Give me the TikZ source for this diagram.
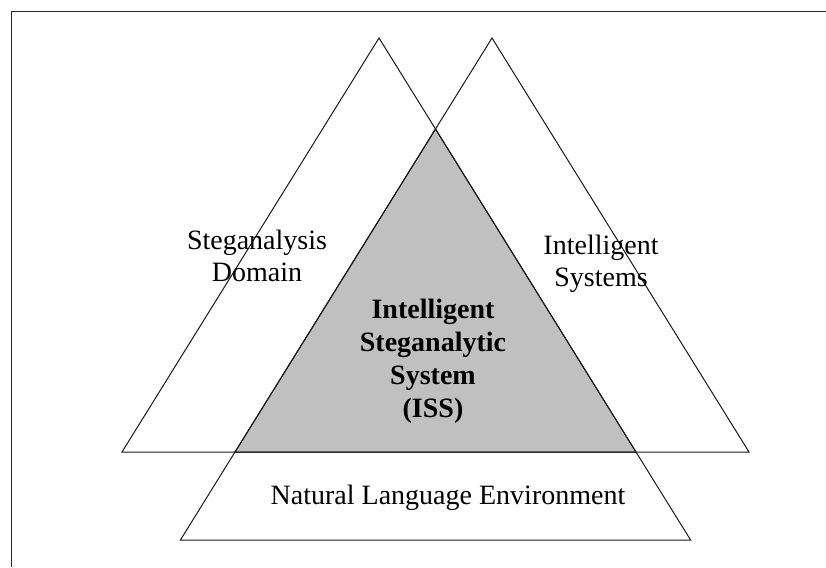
\documentclass[tikz,border=0pt]{standalone}
\usepackage{fontspec}
\setmainfont{Liberation Serif}
\usetikzlibrary{calc}
\begin{document}
\begin{tikzpicture}[x=1pt,y=-1pt,
  tri/.style={draw=black!90, line width=1pt, line join=miter},
  frameline/.style={draw=black!85, line width=1.8pt},
  lbl/.style={font=\fontsize{28}{32}\selectfont, align=center, inner sep=0pt},
  shade/.style={fill=isgray}]
\definecolor{isgray}{HTML}{C0C0C0}
\useasboundingbox (0,0) rectangle (826,567);
% frame
\coordinate (F1) at (11.5,567);
\coordinate (F2) at (11.5,11.5);
\coordinate (F3) at (826,11.5);
\draw[frameline] (F1) -- (F2) -- (F3);
% triangles
\coordinate (A1) at (379,38);
\coordinate (A2) at (122,452);
\coordinate (A3) at (636,452);
\coordinate (B1) at (492,38);
\coordinate (B2) at (235,452);
\coordinate (B3) at (749,452);
\coordinate (X) at (435.5,129);
\coordinate (C2) at (180.4,540);
\coordinate (C3) at (690.6,540);
\fill[shade] (X) -- (B2) -- (A3) -- cycle;
\draw[tri] (A1) -- (A2) -- (A3) -- cycle;
\draw[tri] (B1) -- (B2) -- (B3) -- cycle;
\draw[tri] (X) -- (C2) -- (C3) -- cycle;
% labels
\node[lbl] (sd) at (257,256) {Steganalysis\\Domain};
\node[lbl] (is) at (601,264) {Intelligent\\Systems};
\node[lbl, font=\fontsize{28}{33}\selectfont\bfseries] (iss) at (433,361) {Intelligent\\Steganalytic\\System\\(ISS)};
\node[lbl, anchor=base] (nle) at (448,504) {Natural Language Environment};
\end{tikzpicture}
\end{document}
